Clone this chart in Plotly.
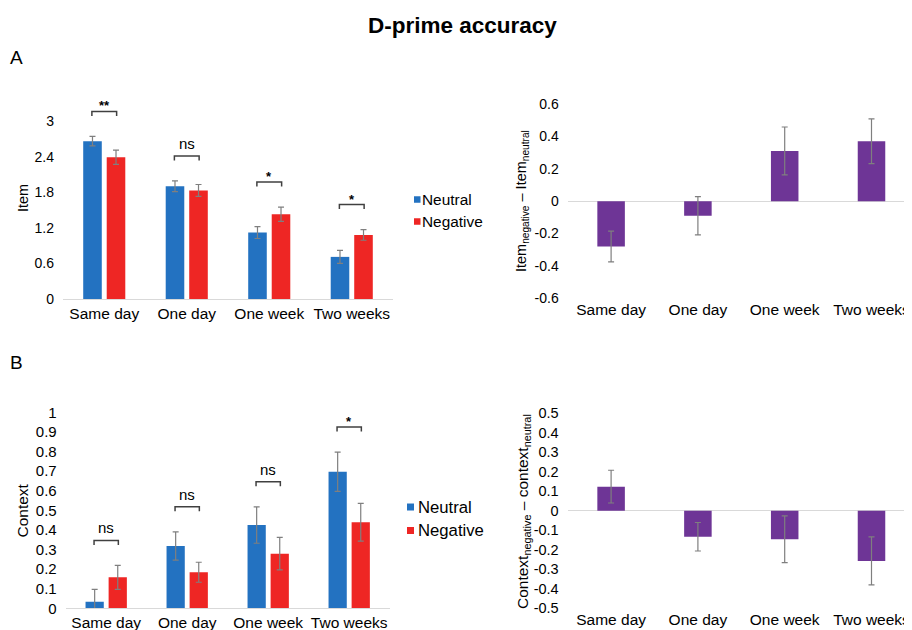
import plotly.graph_objects as go

# ---------------- data ----------------
categories = ["Same day", "One day", "One week", "Two weeks"]

item_neutral = [2.66, 1.90, 1.12, 0.71]
item_neutral_err = [0.08, 0.09, 0.10, 0.11]
item_negative = [2.39, 1.83, 1.43, 1.08]
item_negative_err = [0.12, 0.10, 0.12, 0.09]
item_sig = ["**", "ns", "*", "*"]

item_diff = [-0.28, -0.09, 0.31, 0.37]
item_diff_err = [0.095, 0.118, 0.148, 0.138]

context_neutral = [0.034, 0.318, 0.425, 0.697]
context_neutral_err = [0.063, 0.072, 0.093, 0.100]
context_negative = [0.158, 0.184, 0.279, 0.439]
context_negative_err = [0.061, 0.051, 0.083, 0.096]
context_sig = ["ns", "ns", "ns", "*"]

context_diff = [0.124, -0.133, -0.146, -0.257]
context_diff_err = [0.084, 0.073, 0.120, 0.123]

item_ticks = [0, 0.6, 1.2, 1.8, 2.4, 3]
item_diff_ticks = [-0.6, -0.4, -0.2, 0, 0.2, 0.4, 0.6]
context_ticks = [0, 0.1, 0.2, 0.3, 0.4, 0.5, 0.6, 0.7, 0.8, 0.9, 1]
context_diff_ticks = [-0.5, -0.4, -0.3, -0.2, -0.1, 0, 0.1, 0.2, 0.3, 0.4, 0.5]

series_names = ["Neutral", "Negative"]

# ---------------- style ----------------
# mapping from window pixels to figure paper (page offset / vertical fit of the page)
OFFX, OFFY, SY = 8, 17, 0.973
W, H = 904, 630
FONT = "Liberation Sans, Arial, Helvetica, sans-serif"
BLUE = "#2372C1"
RED = "#EE2624"
PURPLE = "#6E3596"
ERR = "#7F7F7F"
AXIS = "#D9D9D9"
BRACKET = "#404040"


def fx(p):
    return (p - OFFX) / W


def fy(p):
    return 1 - ((p - OFFY) / SY) / H


def fmt(v):
    return f"{round(v, 6):g}"


idx = list(range(len(categories)))

# panel geometry in window pixels: (left, right, top, bottom) and y-range
A_left = dict(x0=63, x1=393, top=100, bottom=299, yr=[0, 3.354])
A_right = dict(x0=567.7, x1=912, top=104, bottom=298.3, yr=[-0.6, 0.6])
B_left = dict(x0=65.7, x1=389.7, top=412.3, bottom=608.3, yr=[0, 1.0])
B_right = dict(x0=567.7, x1=912, top=413.3, bottom=608.3, yr=[-0.5, 0.5])

fig = go.Figure()


def errbar(arr):
    return dict(type="data", array=arr, color=ERR, thickness=1.2, width=3)


# Item panels
fig.add_trace(go.Bar(x=idx, y=item_neutral, error_y=errbar(item_neutral_err),
                     marker=dict(color=BLUE, line=dict(width=0)), name=series_names[0],
                     xaxis="x", yaxis="y", showlegend=False))
fig.add_trace(go.Bar(x=idx, y=item_negative, error_y=errbar(item_negative_err),
                     marker=dict(color=RED, line=dict(width=0)), name=series_names[1],
                     xaxis="x", yaxis="y", showlegend=False))
fig.add_trace(go.Bar(x=idx, y=item_diff, error_y=errbar(item_diff_err), width=0.317,
                     marker=dict(color=PURPLE, line=dict(width=0)), name="Item difference",
                     xaxis="x2", yaxis="y2", showlegend=False))
# Context panels
fig.add_trace(go.Bar(x=idx, y=context_neutral, error_y=errbar(context_neutral_err),
                     marker=dict(color=BLUE, line=dict(width=0)), name=series_names[0],
                     xaxis="x3", yaxis="y3", showlegend=False))
fig.add_trace(go.Bar(x=idx, y=context_negative, error_y=errbar(context_negative_err),
                     marker=dict(color=RED, line=dict(width=0)), name=series_names[1],
                     xaxis="x3", yaxis="y3", showlegend=False))
fig.add_trace(go.Bar(x=idx, y=context_diff, error_y=errbar(context_diff_err), width=0.317,
                     marker=dict(color=PURPLE, line=dict(width=0)), name="Context difference",
                     xaxis="x4", yaxis="y4", showlegend=False))


def xaxis_cfg(g, anchor, showline, fsize, cat_px):
    return dict(domain=[fx(g["x0"]), fx(g["x1"])],
                range=[-0.5, -0.5 + (g["x1"] - g["x0"]) / cat_px],
                anchor=anchor, tickvals=idx, ticktext=categories, showgrid=False, zeroline=False,
                showline=showline, linecolor=AXIS, linewidth=1, ticks="",
                tickfont=dict(family=FONT, size=fsize, color="black"), fixedrange=True)


def yaxis_cfg(g, anchor, ticks, fsize, zeroline):
    return dict(domain=[fy(g["bottom"]), fy(g["top"])], range=g["yr"], anchor=anchor,
                tickvals=ticks, ticktext=[fmt(t) for t in ticks], showgrid=False,
                zeroline=zeroline, zerolinecolor=AXIS, zerolinewidth=1, showline=False,
                ticks="", ticklabelstandoff=8,
                tickfont=dict(family=FONT, size=fsize, color="black"), fixedrange=True)


fig.update_layout(
    width=W, height=H, margin=dict(l=0, r=0, t=0, b=0),
    paper_bgcolor="white", plot_bgcolor="rgba(0,0,0,0)",
    barmode="group", bargap=0.43, bargroupgap=0.21,
    font=dict(family=FONT, color="black"),
    xaxis=xaxis_cfg(A_left, "y", True, 15.5, 82.5),
    yaxis=yaxis_cfg(A_left, "x", item_ticks, 14, False),
    xaxis2=xaxis_cfg(A_right, "y2", False, 15.5, 86.8),
    yaxis2=yaxis_cfg(A_right, "x2", item_diff_ticks, 14, True),
    xaxis3=xaxis_cfg(B_left, "y3", True, 15.5, 81.0),
    yaxis3=yaxis_cfg(B_left, "x3", context_ticks, 15, False),
    xaxis4=xaxis_cfg(B_right, "y4", False, 15.5, 86.8),
    yaxis4=yaxis_cfg(B_right, "x4", context_diff_ticks, 14.5, True),
)

shapes = []
annotations = []


def add_brackets(g, xref, yref, neu, neu_err, neg, neg_err, sig):
    px_per_unit = (g["bottom"] - g["top"]) / (g["yr"][1] - g["yr"][0])
    d = 0.15
    leg = 4.5 / px_per_unit
    for i, lab in enumerate(sig):
        top = max(neu[i] + neu_err[i], neg[i] + neg_err[i])
        yb = top + 25 / px_per_unit
        shapes.append(dict(type="path", xref=xref, yref=yref,
                           path=f"M {i - d},{yb - leg} L {i - d},{yb} L {i + d},{yb} L {i + d},{yb - leg}",
                           line=dict(color=BRACKET, width=1.5)))
        if lab == "ns":
            annotations.append(dict(x=i, y=yb, xref=xref, yref=yref, text=lab, showarrow=False,
                                    xanchor="center", yanchor="bottom", yshift=2,
                                    font=dict(family=FONT, size=15, color="black")))
        else:
            annotations.append(dict(x=i, y=yb, xref=xref, yref=yref, text=f"<b>{lab}</b>",
                                    showarrow=False, xanchor="center", yanchor="bottom", yshift=-4,
                                    font=dict(family=FONT, size=13, color="black")))


add_brackets(A_left, "x", "y", item_neutral, item_neutral_err, item_negative, item_negative_err, item_sig)
add_brackets(B_left, "x3", "y3", context_neutral, context_neutral_err, context_negative,
             context_negative_err, context_sig)


def add_legend(sq_x0, sq_size, text_x, ys, fsize):
    colors = [BLUE, RED]
    for name, c, yc in zip(series_names, colors, ys):
        shapes.append(dict(type="rect", xref="paper", yref="paper",
                           x0=fx(sq_x0), x1=fx(sq_x0 + sq_size),
                           y0=fy(yc + sq_size / 2), y1=fy(yc - sq_size / 2),
                           fillcolor=c, line=dict(width=0)))
        annotations.append(dict(x=fx(text_x), y=fy(yc), xref="paper", yref="paper", text=name,
                                showarrow=False, xanchor="left", yanchor="middle",
                                font=dict(family=FONT, size=fsize, color="black")))


add_legend(414, 6.5, 420, [199.5, 221.5], 15.4)
add_legend(407, 7, 416, [507, 530.5], 16.7)

# title, panel letters, axis titles
annotations.append(dict(x=fx(462.5), y=fy(25.5), xref="paper", yref="paper",
                        text="<b>D-prime accuracy</b>", showarrow=False,
                        xanchor="center", yanchor="middle",
                        font=dict(family=FONT, size=22.5, color="black")))
annotations.append(dict(x=fx(16.5), y=fy(57), xref="paper", yref="paper", text="A",
                        showarrow=False, xanchor="center", yanchor="middle",
                        font=dict(family=FONT, size=19, color="black")))
annotations.append(dict(x=fx(16.5), y=fy(362), xref="paper", yref="paper", text="B",
                        showarrow=False, xanchor="center", yanchor="middle",
                        font=dict(family=FONT, size=19, color="black")))

ytitles = [
    (23, 198, "Item", 14.5),
    (22.5, 511, "Context", 15.5),
    (522, 201, "Item<sub>negative</sub> \u2013 Item<sub>neutral</sub>", 14.5),
    (523, 512, "Context<sub>negative</sub> \u2013 context<sub>neutral</sub>", 15.5),
]
for x, y, t, s in ytitles:
    annotations.append(dict(x=fx(x), y=fy(y), xref="paper", yref="paper", text=t,
                            textangle=-90, showarrow=False, xanchor="center", yanchor="middle",
                            font=dict(family=FONT, size=s, color="black")))

fig.update_layout(shapes=shapes, annotations=annotations)

fig.write_html("out.html")
